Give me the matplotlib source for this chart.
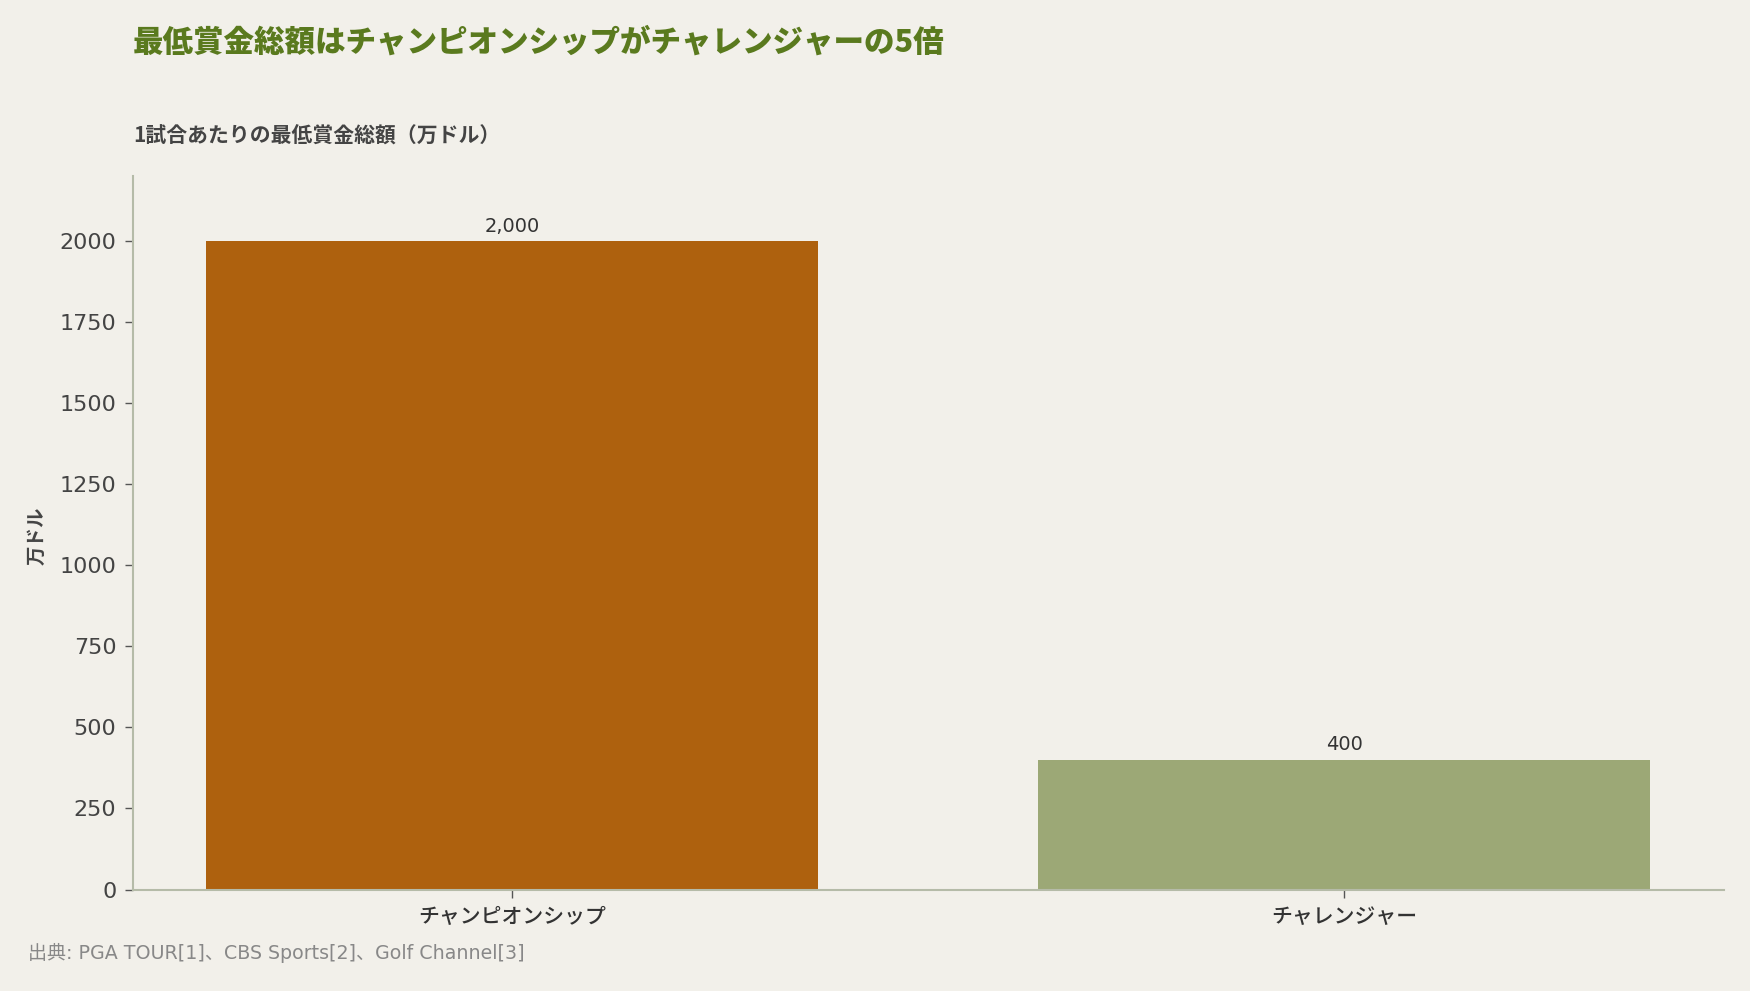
import matplotlib
matplotlib.use("Agg")
import matplotlib.pyplot as plt

categories = ["チャンピオンシップ", "チャレンジャー"]
values = [2000, 400]
value_labels = ["2,000", "400"]
colors = ["#AE610E", "#9CA876"]
yticks = [0, 250, 500, 750, 1000, 1250, 1500, 1750, 2000]

title = "最低賞金総額はチャンピオンシップがチャレンジャーの5倍"
subtitle = "1試合あたりの最低賞金総額（万ドル）"
ylabel = "万ドル"
source = "出典: PGA TOUR[1]、CBS Sports[2]、Golf Channel[3]"

plt.rcParams['font.family'] = ['Noto Sans CJK JP', 'DejaVu Sans']
latin = ['DejaVu Sans', 'Noto Sans CJK JP']
bg = "#F2F0EA"

fig = plt.figure(figsize=(17.5, 9.91), dpi=100, facecolor=bg)
ax = fig.add_axes([0.076, 0.1024, 0.909, 0.7196], facecolor=bg)

x = list(range(len(categories)))
bars = ax.bar(x, values, width=0.735, color=colors, zorder=2)
ax.set_xlim(-0.455, 1.456)
ax.set_ylim(0, 2200)
ax.set_yticks(yticks)
ax.set_yticklabels([str(t) for t in yticks])
for t in ax.get_yticklabels():
    t.set_fontfamily(latin)
    t.set_fontsize(16)
    t.set_color("#444444")
ax.set_xticks(x)
ax.set_xticklabels(categories, fontsize=15, color="#333333", fontweight='medium')

for b, lab in zip(bars, value_labels):
    ax.annotate(lab, (b.get_x() + b.get_width() / 2, b.get_height()),
                xytext=(0, 4), textcoords="offset points", ha="center", va="bottom",
                fontsize=14, color="#333333", family=latin)

for s in ["top", "right"]:
    ax.spines[s].set_visible(False)
for s in ["left", "bottom"]:
    ax.spines[s].set_color("#B5BBA8")
    ax.spines[s].set_linewidth(1.5)
ax.tick_params(axis="both", colors="#555555", length=6, width=1)
ax.tick_params(axis="y", labelcolor="#444444", pad=6)
ax.tick_params(axis="x", labelcolor="#333333", pad=6)

fig.text(0.021, 0.4595, ylabel, rotation=90, ha="center", va="center",
         fontsize=14, fontweight="bold", color="#444444")

fig.text(0.076, 0.958, title, ha="left", va="center", fontsize=22, fontweight="black", color="#5A7A1E")
fig.text(0.076, 0.863, subtitle, ha="left", va="center", fontsize=15, fontweight="bold", color="#444444")
fig.text(0.016, 0.038, source, ha="left", va="center", fontsize=13.7, color="#888888", family=latin)

fig.savefig("out.png", dpi=100, facecolor=bg)
